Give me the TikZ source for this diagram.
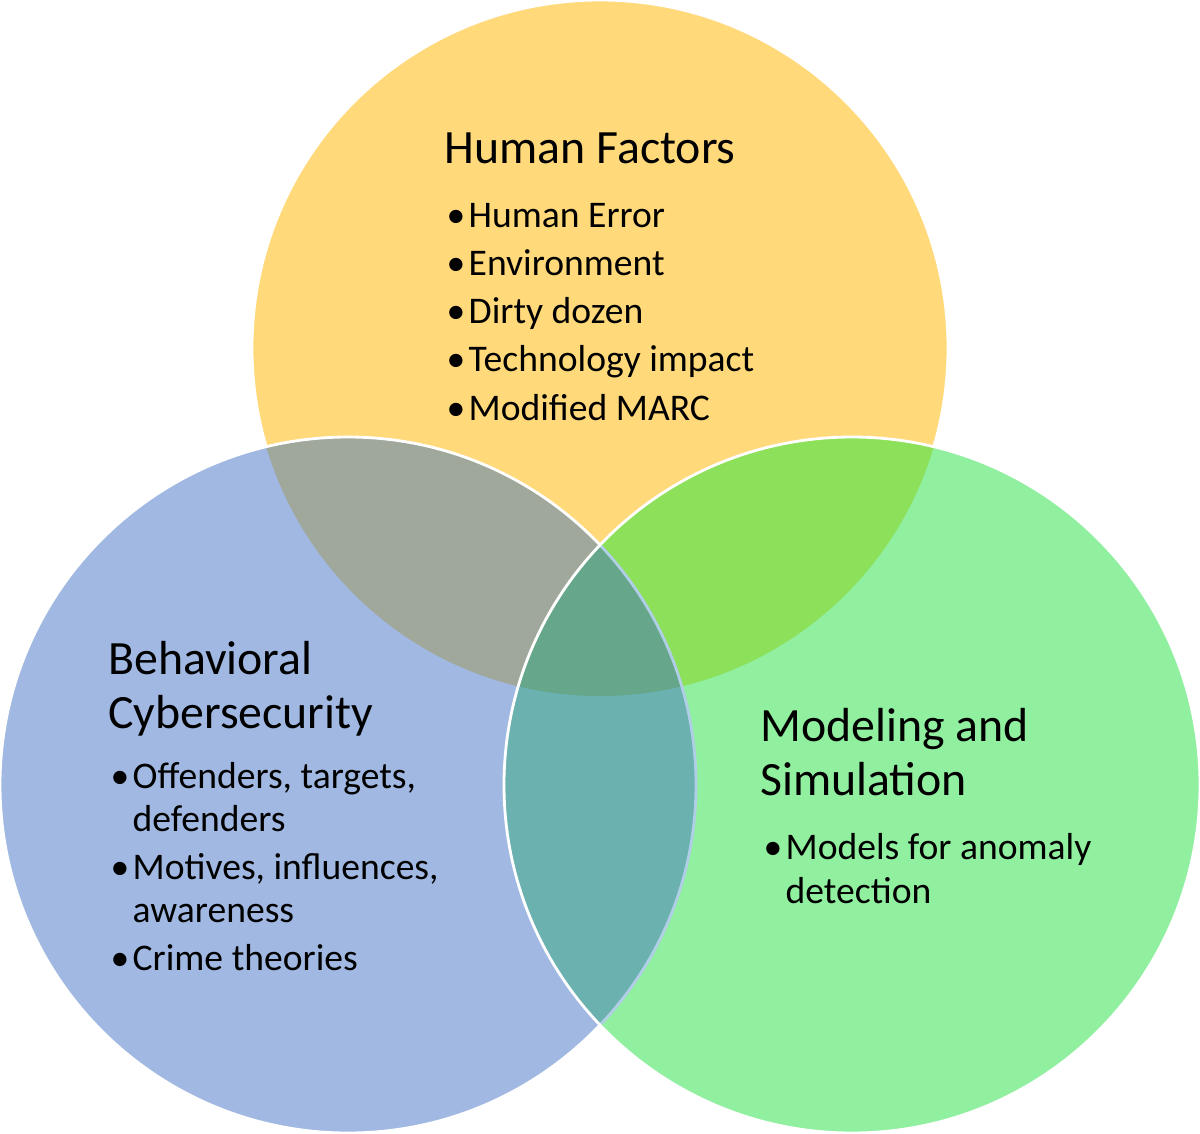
\documentclass[tikz,border=0pt]{standalone}
\usepackage{fontspec}
\setmainfont{Carlito}
\definecolor{hfyellow}{HTML}{FFD97A}
\definecolor{bcblue}{HTML}{A1B9E2}
\definecolor{msgreen}{HTML}{91EFA0}
\definecolor{hfbcgrey}{HTML}{A0A79B}
\definecolor{hfmsgreen}{HTML}{8CE05A}
\definecolor{bcmsteal}{HTML}{6AB1B0}
\definecolor{allteal}{HTML}{66A68A}
\definecolor{paleline}{HTML}{B0CFE6}
\newcommand{\vbul}{\makebox[0.23cm][l]{\hspace{0.01cm}•}}
\newcommand{\vind}{\hspace*{0.23cm}}
\tikzset{
  ring/.style={draw=white, line width=0.8pt},
  heading/.style={anchor=base west, inner sep=0pt, align=left, font=\fontsize{13.6}{15.1}\selectfont},
  points/.style={anchor=base west, inner sep=0pt, align=left, font=\fontsize{10.7}{12.3}\selectfont}
}

\begin{document}
\begin{tikzpicture}
  \useasboundingbox (0, 0) rectangle (12, 11.33);
  \coordinate (hf) at (6, 7.85);
  \coordinate (bc) at (3.48, 3.48);
  \coordinate (ms) at (8.52, 3.48);

  % Circles
  \fill[hfyellow] (hf) circle (3.48);
  \draw[ring] (hf) circle (3.48);
  \fill[bcblue] (bc) circle (3.48);
  \begin{scope}
    \clip (hf) circle (3.48);
    \fill[hfbcgrey] (bc) circle (3.48);
  \end{scope}
  \draw[ring] (bc) circle (3.48);
  \fill[msgreen] (ms) circle (3.48);
  \begin{scope}
    \clip (ms) circle (3.48);
    \fill[hfmsgreen] (hf) circle (3.48);
    \fill[bcmsteal] (bc) circle (3.48);
    \begin{scope}
      \clip (hf) circle (3.48);
      \fill[allteal] (bc) circle (3.48);
    \end{scope}
    \draw[paleline, line width=0.8pt] (bc) circle (3.48);
  \end{scope}
  \draw[ring] (ms) circle (3.48);

  % Human Factors (base = last line)
  \node[heading] (hftitle) at (4.44, 9.70) {Human Factors};
  \node[points] (hflist) at (4.45, 7.13) {
    \vbul Human Error\\[0.05cm]
    \vbul Environment\\[0.05cm]
    \vbul Dirty dozen\\[0.05cm]
    \vbul Technology impact\\[0.05cm]
    \vbul Modified MARC
  };

  % Behavioral Cybersecurity
  \node[heading] (bctitle) at (1.075, 4.05) {Behavioral\\Cybersecurity};
  \node[points] (bclist) at (1.09, 1.63) {
    \vbul Offenders, targets,\\
    \vind defenders\\[0.045cm]
    \vbul Motives, influences,\\
    \vind awareness\\[0.045cm]
    \vbul Crime theories
  };

  % Modeling and Simulation
  \node[heading] (mstitle) at (7.595, 3.38) {Modeling and\\Simulation};
  \node[points] (mslist) at (7.62, 2.30) {
    \vbul Models for anomaly\\
    \vind detection
  };
\end{tikzpicture}
\end{document}
